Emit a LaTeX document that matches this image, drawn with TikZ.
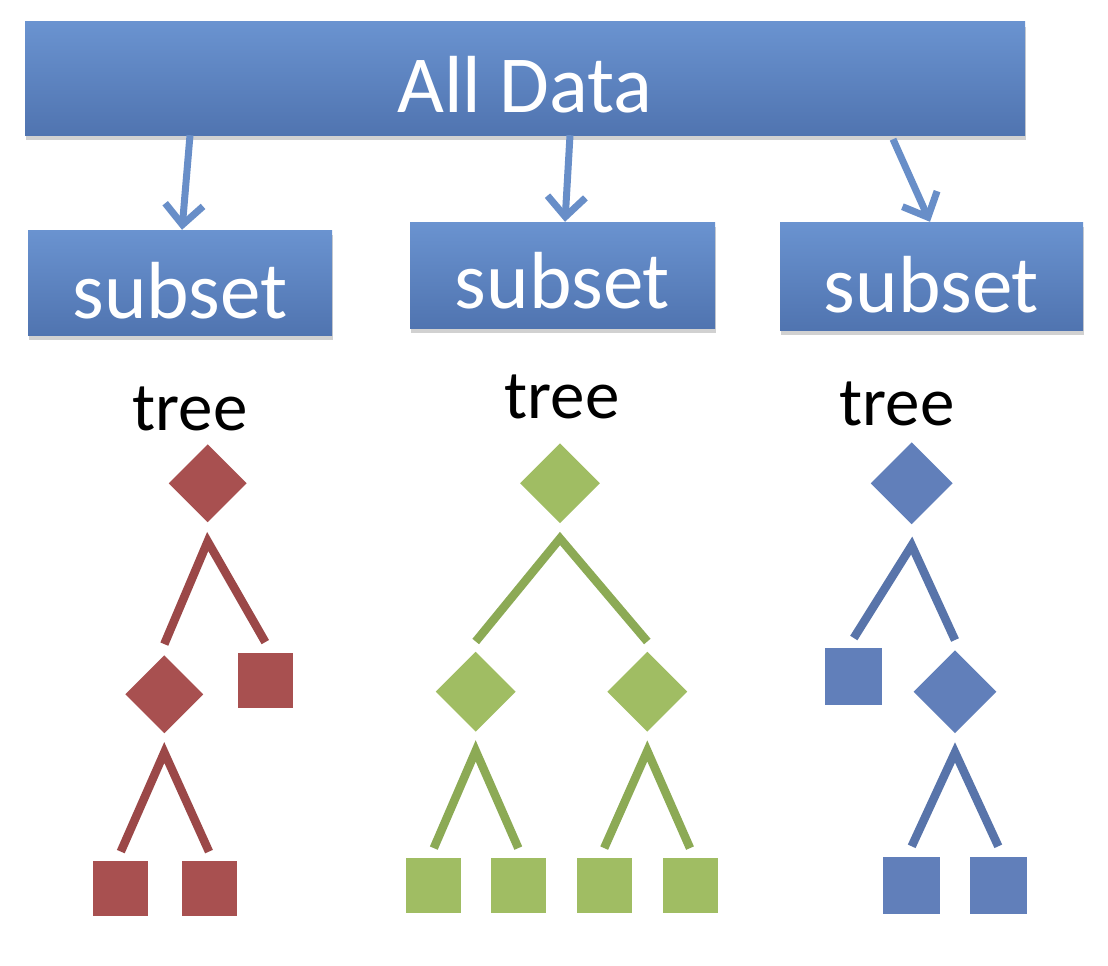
\documentclass[tikz,border=0pt]{standalone}
\usepackage{fontspec}
\setmainfont{Carlito}
\usetikzlibrary{shapes.geometric,arrows.meta,calc,shadows}
\definecolor{boxtop}{RGB}{106,147,208}
\definecolor{boxbot}{RGB}{80,116,176}
\definecolor{arrowblue}{RGB}{104,142,200}
\definecolor{treered}{RGB}{168,80,80}
\definecolor{linered}{RGB}{155,72,72}
\definecolor{treegreen}{RGB}{160,189,99}
\definecolor{linegreen}{RGB}{140,170,85}
\definecolor{treeblue}{RGB}{97,127,186}
\definecolor{lineblue}{RGB}{88,116,170}
\begin{document}
\begin{tikzpicture}[x=1pt,y=-1pt,
  bluebox/.style={rectangle, inner sep=0pt, top color=boxtop, bottom color=boxbot,
    text=white, font=\fontsize{81}{90}\selectfont, text depth=0pt,
    drop shadow={shadow xshift=1pt, shadow yshift=-5pt, opacity=0.18, fill=black}},
  arr/.style={line width=7pt, arrowblue, -{Straight Barb[length=20pt,width=38pt]}},
  treelabel/.style={font=\fontsize{69}{80}\selectfont, inner sep=0pt, anchor=base, text=black},
  dnode/.style={diamond, inner sep=0pt, minimum size=#1},
  leaf/.style={rectangle, inner sep=0pt, minimum size=#1},
  tline/.style={line width=8.5pt, line join=miter, line cap=butt}]
\useasboundingbox (0,0) rectangle (1108,966);
\fill[white] (0,0) rectangle (1108,966);

% boxes
\node[bluebox, minimum width=1000pt, minimum height=113pt, text height=67pt] (all) at (525,78.5) {All Data};
\node[bluebox, minimum width=304pt, minimum height=105pt, text height=71pt] (s1) at (180,282.5) {subset};
\node[bluebox, minimum width=305pt, minimum height=106pt, text height=66pt] (s2) at (562.5,275) {subset};
\node[bluebox, minimum width=303pt, minimum height=108pt, text height=72pt] (s3) at (931.5,276) {subset};

% arrows
\coordinate (o1) at ([xshift=-335pt]all.south);
\coordinate (o2) at ([xshift=45pt]all.south);
\coordinate (o3) at ([xshift=368pt,yshift=-4pt]all.south);
\draw[arr] (o1) -- ([xshift=2pt]s1.north);
\draw[arr] (o2) -- ([xshift=2.5pt]s2.north);
\draw[arr] (o3) -- ([xshift=-1.5pt]s3.north);

% tree labels
\node[treelabel] (t1) at (190,430) {tree};
\node[treelabel] (t2) at (562,418) {tree};
\node[treelabel] (t3) at (897,425) {tree};

% red tree
\node[dnode=78pt, fill=treered] (r1) at (207.7,483.3) {};
\node[dnode=78pt, fill=treered] (r2) at (164.3,694.3) {};
\node[leaf=55pt, fill=treered] (r3) at (265.3,680.8) {};
\node[leaf=55pt, fill=treered] (r4) at (120.8,888.3) {};
\node[leaf=55pt, fill=treered] (r5) at (209,888.3) {};
\draw[tline, linered] ($(r2.north)+(0,-11)$) -- ($(r1.south)+(0,19)$) -- ($(r3.north)+(0,-11)$);
\draw[tline, linered] ($(r4.north)+(0,-9)$) -- ($(r2.south)+(0,19)$) -- ($(r5.north)+(0,-9)$);

% green tree
\node[dnode=80pt, fill=treegreen] (g1) at (560,483.3) {};
\node[dnode=80pt, fill=treegreen] (g2) at (475.7,691.7) {};
\node[dnode=80pt, fill=treegreen] (g3) at (647.3,691.7) {};
\node[leaf=55pt, fill=treegreen] (g4) at (433.8,885.8) {};
\node[leaf=55pt, fill=treegreen] (g5) at (518.3,885.8) {};
\node[leaf=55pt, fill=treegreen] (g6) at (604.2,885.8) {};
\node[leaf=55pt, fill=treegreen] (g7) at (690,885.8) {};
\draw[tline, linegreen] ($(g2.north)+(0,-10)$) -- ($(g1.south)+(0,15)$) -- ($(g3.north)+(0,-10)$);
\draw[tline, linegreen] ($(g4.north)+(0,-10)$) -- ($(g2.south)+(0,19)$) -- ($(g5.north)+(0,-10)$);
\draw[tline, linegreen] ($(g6.north)+(0,-10)$) -- ($(g3.south)+(0,19)$) -- ($(g7.north)+(0,-10)$);

% blue tree
\node[dnode=82pt, fill=treeblue] (b1) at (911.7,483.3) {};
\node[leaf=57pt, fill=treeblue] (b2) at (853.8,676.7) {};
\node[dnode=83pt, fill=treeblue] (b3) at (955,691.7) {};
\node[leaf=57pt, fill=treeblue] (b4) at (911.7,885) {};
\node[leaf=57pt, fill=treeblue] (b5) at (998.3,885) {};
\draw[tline, lineblue] ($(b2.north)+(0,-10)$) -- ($(b1.south)+(0,21)$) -- ($(b3.north)+(0,-10)$);
\draw[tline, lineblue] ($(b4.north)+(0,-10)$) -- ($(b3.south)+(0,19)$) -- ($(b5.north)+(0,-10)$);
\end{tikzpicture}
\end{document}
